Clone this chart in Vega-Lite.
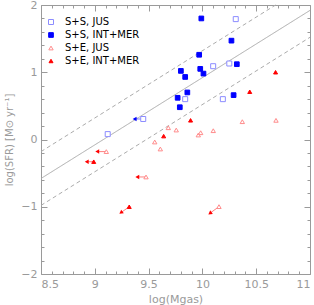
{
  "$schema": "https://vega.github.io/schema/vega-lite/v6.json",
  "width": 269,
  "height": 269,
  "autosize": {"type": "none"},
  "padding": {"left": 41, "top": 5, "right": 4, "bottom": 31},
  "config": {
    "font": "DejaVu Sans",
    "view": {"stroke": "#9a9a9a", "strokeWidth": 1},
    "axis": {
      "grid": false,
      "domain": false,
      "tickColor": "#9a9a9a",
      "labelColor": "#9a9a9a",
      "titleColor": "#9a9a9a",
      "labelFontSize": 11,
      "titleFontSize": 11,
      "titleFontWeight": "normal",
      "labelFont": "DejaVu Sans",
      "titleFont": "DejaVu Sans"
    }
  },
  "datasets": {
    "points": [
      {"group": "S+S, INT+MER", "mgas": 9.99, "sfr": 1.80},
      {"group": "S+S, INT+MER", "mgas": 10.27, "sfr": 1.47},
      {"group": "S+S, INT+MER", "mgas": 9.97, "sfr": 1.26},
      {"group": "S+S, INT+MER", "mgas": 10.32, "sfr": 1.12},
      {"group": "S+S, INT+MER", "mgas": 9.80, "sfr": 1.02},
      {"group": "S+S, INT+MER", "mgas": 9.98, "sfr": 1.05},
      {"group": "S+S, INT+MER", "mgas": 9.84, "sfr": 0.93},
      {"group": "S+S, INT+MER", "mgas": 10.01, "sfr": 0.98},
      {"group": "S+S, INT+MER", "mgas": 9.86, "sfr": 0.70},
      {"group": "S+S, INT+MER", "mgas": 9.77, "sfr": 0.62},
      {"group": "S+S, INT+MER", "mgas": 10.29, "sfr": 0.66},
      {"group": "S+S, INT+MER", "mgas": 9.79, "sfr": 0.48},
      {"group": "S+S, JUS", "mgas": 10.31, "sfr": 1.79},
      {"group": "S+S, JUS", "mgas": 10.10, "sfr": 1.09},
      {"group": "S+S, JUS", "mgas": 10.25, "sfr": 1.13},
      {"group": "S+S, JUS", "mgas": 9.84, "sfr": 0.60},
      {"group": "S+S, JUS", "mgas": 10.19, "sfr": 0.60},
      {"group": "S+S, JUS", "mgas": 9.12, "sfr": 0.08},
      {"group": "S+S, JUS", "mgas": 9.45, "sfr": 0.305},
      {"group": "S+E, INT+MER", "mgas": 10.68, "sfr": 1.00},
      {"group": "S+E, INT+MER", "mgas": 10.44, "sfr": 0.71},
      {"group": "S+E, INT+MER", "mgas": 9.89, "sfr": 0.285},
      {"group": "S+E, INT+MER", "mgas": 9.64, "sfr": 0.05},
      {"group": "S+E, INT+MER", "mgas": 8.99, "sfr": -0.33},
      {"group": "S+E, INT+MER", "mgas": 9.32, "sfr": -1.00},
      {"group": "S+E, JUS", "mgas": 9.107, "sfr": -0.18},
      {"group": "S+E, JUS", "mgas": 9.476, "sfr": -0.557},
      {"group": "S+E, JUS", "mgas": 9.557, "sfr": -0.037},
      {"group": "S+E, JUS", "mgas": 9.683, "sfr": 0.175},
      {"group": "S+E, JUS", "mgas": 9.757, "sfr": 0.141},
      {"group": "S+E, JUS", "mgas": 9.609, "sfr": -0.141},
      {"group": "S+E, JUS", "mgas": 9.962, "sfr": 0.067},
      {"group": "S+E, JUS", "mgas": 9.984, "sfr": 0.101},
      {"group": "S+E, JUS", "mgas": 10.101, "sfr": 0.131},
      {"group": "S+E, JUS", "mgas": 10.371, "sfr": 0.265},
      {"group": "S+E, JUS", "mgas": 10.684, "sfr": 0.285},
      {"group": "S+E, JUS", "mgas": 10.154, "sfr": -0.998}
    ],
    "arrows": [
      {"family": "S+S", "mgas": 9.45, "sfr": 0.305, "mgas_end": 9.37, "sfr_end": 0.305},
      {"family": "S+E", "mgas": 8.99, "sfr": -0.33, "mgas_end": 8.925, "sfr_end": -0.33},
      {"family": "S+E", "mgas": 9.32, "sfr": -1.00, "mgas_end": 9.243, "sfr_end": -1.087},
      {"family": "S+E", "mgas": 9.107, "sfr": -0.18, "mgas_end": 9.023, "sfr_end": -0.18},
      {"family": "S+E", "mgas": 9.476, "sfr": -0.557, "mgas_end": 9.395, "sfr_end": -0.557},
      {"family": "S+E", "mgas": 10.154, "sfr": -0.998, "mgas_end": 10.07, "sfr_end": -1.097}
    ],
    "lines": [
      {"line": "fit", "mgas": 8.5, "sfr": -0.58, "mgas_end": 11.0, "sfr_end": 1.92},
      {"line": "upper", "mgas": 8.5, "sfr": -0.18, "mgas_end": 10.68, "sfr_end": 2.0},
      {"line": "lower", "mgas": 8.5, "sfr": -0.98, "mgas_end": 11.0, "sfr_end": 1.52}
    ]
  },
  "resolve": {"axis": {"x": "independent", "y": "independent"}},
  "layer": [
    {
      "data": {"name": "lines"},
      "mark": {"type": "rule", "color": "#ababab", "strokeWidth": 1},
      "encoding": {
        "x": {"field": "mgas", "type": "quantitative", "scale": {"domain": [8.5, 11], "nice": false, "zero": false},
          "axis": {"orient": "top", "values": [8.5,8.6,8.7,8.8,8.9,9,9.1,9.2,9.3,9.4,9.5,9.6,9.7,9.8,9.9,10,10.1,10.2,10.3,10.4,10.5,10.6,10.7,10.8,10.9,11],
            "labels": false, "title": null,
            "tickSize": {"condition": {"test": "abs(datum.value*2-round(datum.value*2))<0.001", "value": -6}, "value": -3}}},
        "y": {"field": "sfr", "type": "quantitative", "scale": {"domain": [-2, 2], "nice": false, "zero": false},
          "axis": {"orient": "right", "values": [-2,-1.8,-1.6,-1.4,-1.2,-1,-0.8,-0.6,-0.4,-0.2,0,0.2,0.4,0.6,0.8,1,1.2,1.4,1.6,1.8,2],
            "labels": false, "title": null,
            "tickSize": {"condition": {"test": "abs(datum.value-round(datum.value))<0.001", "value": -6}, "value": -3}}},
        "x2": {"field": "mgas_end"},
        "y2": {"field": "sfr_end"},
        "strokeDash": {"field": "line", "type": "nominal", "scale": {"domain": ["fit", "upper", "lower"], "range": [[1, 0], [4, 3], [4, 3]]}, "legend": null}
      }
    },
    {
      "data": {"name": "arrows"},
      "mark": {"type": "rule", "strokeWidth": 1, "opacity": 0.5},
      "encoding": {
        "x": {"field": "mgas", "type": "quantitative", "scale": {"domain": [8.5, 11], "nice": false, "zero": false},
          "axis": {"orient": "bottom", "values": [8.5,8.6,8.7,8.8,8.9,9,9.1,9.2,9.3,9.4,9.5,9.6,9.7,9.8,9.9,10,10.1,10.2,10.3,10.4,10.5,10.6,10.7,10.8,10.9,11],
            "labelExpr": "abs(datum.value*2-round(datum.value*2))<0.001 ? format(datum.value, '~g') : ''",
            "labelPadding": 10, "title": "log(Mgas)", "titlePadding": 4,
            "tickSize": {"condition": {"test": "abs(datum.value*2-round(datum.value*2))<0.001", "value": -6}, "value": -3}}},
        "y": {"field": "sfr", "type": "quantitative", "scale": {"domain": [-2, 2], "nice": false, "zero": false},
          "axis": {"orient": "left", "values": [-2,-1.8,-1.6,-1.4,-1.2,-1,-0.8,-0.6,-0.4,-0.2,0,0.2,0.4,0.6,0.8,1,1.2,1.4,1.6,1.8,2],
            "labelExpr": "abs(datum.value-round(datum.value))<0.001 ? format(datum.value, '~g') : ''",
            "labelPadding": 10, "title": "log(SFR) [M⊙ yr⁻¹]", "titlePadding": 6, "titleFontSize": 10,
            "tickSize": {"condition": {"test": "abs(datum.value-round(datum.value))<0.001", "value": -6}, "value": -3}}},
        "x2": {"field": "mgas_end"},
        "y2": {"field": "sfr_end"},
        "color": {"field": "family", "type": "nominal", "scale": {"domain": ["S+S", "S+E"], "range": ["#0000ff", "#ff0000"]}, "legend": null}
      }
    },
    {
      "data": {"name": "arrows"},
      "transform": [{"filter": "datum.sfr_end === datum.sfr"}],
      "mark": {"type": "point", "shape": "triangle-left", "filled": true, "size": 20, "opacity": 1},
      "encoding": {
        "x": {"field": "mgas_end", "type": "quantitative", "scale": {"domain": [8.5, 11], "nice": false, "zero": false}, "axis": null},
        "y": {"field": "sfr_end", "type": "quantitative", "scale": {"domain": [-2, 2], "nice": false, "zero": false}, "axis": null},
        "color": {"field": "family", "type": "nominal", "legend": null}
      }
    },
    {
      "data": {"name": "arrows"},
      "transform": [{"filter": "datum.sfr_end !== datum.sfr"}],
      "mark": {"type": "point", "shape": "triangle-left", "filled": true, "size": 20, "opacity": 1, "angle": 324},
      "encoding": {
        "x": {"field": "mgas_end", "type": "quantitative", "scale": {"domain": [8.5, 11], "nice": false, "zero": false}, "axis": null},
        "y": {"field": "sfr_end", "type": "quantitative", "scale": {"domain": [-2, 2], "nice": false, "zero": false}, "axis": null},
        "color": {"field": "family", "type": "nominal", "legend": null}
      }
    },
    {
      "data": {"name": "points"},
      "mark": {"type": "point", "strokeWidth": 1, "opacity": 1},
      "encoding": {
        "x": {"field": "mgas", "type": "quantitative", "scale": {"domain": [8.5, 11], "nice": false, "zero": false}, "axis": null},
        "y": {"field": "sfr", "type": "quantitative", "scale": {"domain": [-2, 2], "nice": false, "zero": false}, "axis": null},
        "shape": {"field": "group", "type": "nominal",
          "scale": {"domain": ["S+S, JUS", "S+S, INT+MER", "S+E, JUS", "S+E, INT+MER"], "range": ["square", "square", "triangle-up", "triangle-up"]},
          "legend": {"title": null, "orient": "none", "legendX": 5, "legendY": 12, "padding": 0,
            "labelFontSize": 10, "labelFont": "DejaVu Sans", "labelOffset": 9, "symbolStrokeWidth": 1, "rowPadding": 3,
            "encode": {"labels": {"update": {"fill": {"signal": "indexof(datum.value, 'S+S') === 0 ? '#a4a4ff' : '#ffa0a0'"}}}}}},
        "size": {"field": "group", "type": "nominal",
          "scale": {"domain": ["S+S, JUS", "S+S, INT+MER", "S+E, JUS", "S+E, INT+MER"], "range": [25, 16, 38, 38]}},
        "fill": {"field": "group", "type": "nominal",
          "scale": {"domain": ["S+S, JUS", "S+S, INT+MER", "S+E, JUS", "S+E, INT+MER"], "range": ["#ffffff", "#0000ff", "#ffffff", "#ff0000"]}},
        "stroke": {"field": "group", "type": "nominal",
          "scale": {"domain": ["S+S, JUS", "S+S, INT+MER", "S+E, JUS", "S+E, INT+MER"], "range": ["#8c8cff", "#0000ff", "#ff8c8c", "#ff0000"]}}
      }
    }
  ]
}
